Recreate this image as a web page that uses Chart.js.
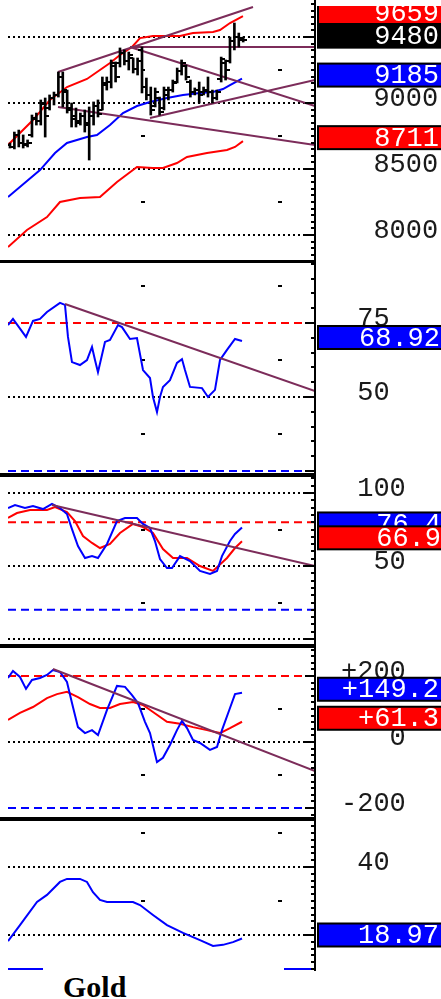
<!DOCTYPE html>
<html><head><meta charset="utf-8">
<script src="https://cdn.jsdelivr.net/npm/chart.js@4"></script>
<style>
body{margin:0;background:#fff;width:441px;height:999px;overflow:hidden;position:relative}
canvas{position:absolute;left:0}
.sep{position:absolute;left:0;width:316px;background:#000;z-index:3}
#legend{position:absolute;left:43px;top:963px;width:241px;height:36px;background:#fff;z-index:5}
#legend span{position:absolute;left:20px;top:9px;font:bold 30px "Liberation Serif";line-height:30px;color:#000}
</style></head><body>
<canvas id="p1" width="441" height="260" style="top:0px"></canvas>
<canvas id="p2" width="441" height="210" style="top:263px"></canvas>
<canvas id="p3" width="441" height="167" style="top:477px"></canvas>
<canvas id="p4" width="441" height="169" style="top:648px"></canvas>
<canvas id="p5" width="441" height="150" style="top:821px"></canvas>
<div class="sep" style="top:260px;height:3px"></div>
<div class="sep" style="top:473px;height:4px"></div>
<div class="sep" style="top:644px;height:4px"></div>
<div class="sep" style="top:817px;height:4px"></div>
<div id="legend"><span>Gold</span></div>
<script>
// ---------- DATA ----------
// price bars (index = bar number)
const priceOpen  = [8680,8670,8760,8700,8690,8760,8880,8860,8990,8960,9040,9060,9200,9080,8960,8880,8860,8900,8850,8900,8980,8950,9140,9160,9280,9300,9380,9320,9340,9260,9400,9120,9060,8980,9040,8960,9060,9100,9160,9240,9280,9160,9080,9100,9080,9090,9080,9040,9180,9300,9320,9470,9500,9490];
const priceHigh  = [8697,8780,8795,8758,8720,8909,8924,9023,9038,9061,9083,9235,9235,9098,9000,8962,8924,8947,8970,9008,9023,9197,9197,9326,9311,9417,9402,9386,9341,9341,9424,9189,9121,9114,9045,9121,9121,9174,9265,9326,9288,9174,9114,9159,9121,9197,9098,9098,9348,9326,9500,9606,9530,9500];
const priceLow   = [8659,8652,8667,8659,8667,8742,8833,8833,8742,8947,8985,9045,8970,8924,8818,8818,8833,8780,8568,8833,8894,8947,9098,9114,9159,9273,9288,9250,9227,9212,9076,9023,8909,8970,8909,8947,9023,9083,9152,9212,9174,9045,9061,9000,9061,9045,9000,9023,9159,9174,9303,9402,9424,9462];
const priceClose = [8670,8760,8700,8680,8700,8890,8860,9000,8900,9040,9060,9200,9100,8950,8900,8850,8900,8830,8900,8980,8920,9150,9160,9300,9200,9380,9320,9360,9260,9320,9120,9060,8950,9080,8930,9100,9100,9150,9240,9300,9200,9080,9100,9060,9100,9080,9040,9080,9330,9250,9470,9500,9480,9480];

// envelope bands (x = bar index)
const upperX = [-0.45,5.23,9.09,12.95,17.5,22.73,25,27.73,29.55,32.5,38.64,41.59,46.14,47.73,50,52.95];
const upperY = [8682,8871,9023,9121,9182,9303,9364,9424,9492,9508,9508,9530,9538,9553,9606,9659];
const midX   = [-0.45,6.82,10.23,12.95,17.5,19.77,22.73,25.68,28.86,31.82,35.68,39.32,43.18,46.14,48.41,50,52.73];
const midY   = [8288,8492,8621,8697,8742,8758,8833,8924,8977,9008,9038,9061,9076,9083,9106,9136,9185];
const lowerX = [-0.45,3.86,8.41,11.36,15.91,20.45,24.32,28.86,32.5,34.77,37.95,40.23,44.77,49.32,51.14,52.95];
const lowerY = [7909,8038,8136,8250,8280,8288,8402,8515,8508,8508,8545,8591,8621,8644,8667,8711];

// price trend lines: [x1, y1, x2, y2]
const priceTrends = [
  [10.91,9235,55.23,9727],
  [27.27,9424,69.32,9424],
  [27.27,9424,69.32,8977],
  [10.91,8970,69.32,8682],
  [31.82,8886,69.32,9174]
];

// RSI
const rsiX = [-0.45,0.68,3.64,5.23,6.82,8.41,11.36,12.5,13.18,14.09,15.91,17.5,18.64,19.32,20,21.59,22.73,24.55,25.45,27.27,28.86,30.23,31.82,32.5,33.41,34.09,34.77,36.36,37.95,39.09,39.77,40.91,43.64,45,46.59,47.73,49.32,51.14,52.73];
const rsiY = [74.3,76.4,70.3,75.7,76.4,78.7,81.8,81.1,70.3,61.8,60.8,62.5,66.9,62.5,58.4,68.6,69.3,74.3,73.6,69.6,69.9,59.1,56.4,50.0,44.9,50.0,53.4,55.7,61.5,62.8,59.1,53.4,53.0,50.0,52.4,62.5,65.9,69.6,68.92];
const rsiTrend = [12.5,81.4,69.32,52.0];

// Stochastic
const stkX = [-0.45,1.14,3.41,5.23,7.5,9.55,11.36,12.95,14.09,15.45,17.05,18.64,20,22.05,24.32,26.14,28.86,30.23,31.82,32.95,34.09,35.68,36.82,38.64,40.91,43.18,45.45,47.05,48.18,50,51.14,52.73];
const stkY = [89.7,91.8,89.7,91.1,89.0,92.5,89.7,85.6,75.3,63.7,55.5,56.8,55.5,65.1,80.8,82.9,82.9,78.8,76.0,67.1,54.8,48.6,48.6,56.8,53.4,46.6,44.5,46.6,56.8,67.1,71.9,76.4];
const stdX = [-0.45,1.59,4.55,8.41,10.23,12.95,14.77,16.59,18.64,20.45,22.73,25,27.95,30.23,32.5,34.77,37.05,40.23,43.18,46.14,49.32,51.14,52.73];
const stdY = [82.9,86.3,88.4,88.4,90.4,87.0,80.8,70.5,65.8,62.3,65.1,72.6,78.8,76.7,72.6,61.6,55.5,55.5,50.0,46.6,55.5,62.3,66.9];
const stoTrend = [9.55,91.8,69.32,50.0];

// CCI
const cciX = [-0.45,0.68,2.27,3.64,5,6.82,8.41,9.77,11.36,12.95,14.09,15.45,17.05,18.64,20,22.05,24.32,26.14,27.73,29.09,30.68,31.82,33.41,34.77,36.36,37.95,39.09,40.23,41.59,43.18,45.45,47.05,48.18,50,51.14,52.73];
const cciY = [194,215,197,161,188,194,203,218,212,182,118,45,27,36,21,97,170,167,142,118,61,27,-61,-48,-9,36,64,42,6,-3,-24,-15,36,103,145,149.2];
const cciAvgX = [-0.45,2.27,5.23,8.41,10.68,12.95,15.45,18.18,20.45,22.73,25,27.95,30.23,32.5,35.68,38.64,41.59,44.77,47.73,50,52.73];
const cciAvgY = [67,88,106,133,145,152,136,115,103,103,115,121,112,91,61,55,45,36,27,42,61.3];
const cciTrend = [9.77,221,69.32,-88];

// bottom indicator
const adxX = [-0.45,2.27,6.14,8.41,11.36,12.95,15.91,17.5,18.86,20.45,22.05,27.95,29.55,32.5,35.68,39.32,43.18,46.14,48.41,50.68,52.73];
const adxY = [18.2,22.9,29.7,31.8,35.6,36.5,36.5,35.6,32.6,30.3,29.7,29.7,28.8,25.9,22.9,20.6,18.5,16.8,17.1,17.9,18.97];

// time grid (vertical grid markers) x positions in bar index
const timeGridX = [30.23, 61.36];

// axis ticks
const priceTicks = [8000,8500,9000,9500];
const rsiTicks = [50,75];
const stoTicks = [0,50,100];
const cciTicks = [-200,0,200];
const adxTicks = [20,40];

// ---------- HELPERS ----------
const X_MIN = -0.45, X_MAX = 69.32;
const RED = '#ff0000', BLUE = '#0000ff', MAROON = '#7c2c5a';
const pts = (xs, ys) => xs.map((x, i) => ({x, y: ys[i]}));
function lineDs(data, color, order, extra) {
  return Object.assign({type:'line', data, borderColor:color, borderWidth:2, pointRadius:0, fill:false, tension:0, order}, extra || {});
}
const trendDs = t => lineDs([{x:t[0], y:t[1]}, {x:t[2], y:t[3]}], MAROON, 1);
const levelDs = (v, color, dash) => lineDs([{x:X_MIN, y:v}, {x:X_MAX, y:v}], color, 8, dash ? {borderDash:[8,5]} : {});
function img(w, h, x0, fw) {
  const c = document.createElement('canvas'); c.width = w; c.height = h;
  const g = c.getContext('2d'); g.fillStyle = '#000'; g.fillRect(x0, 0, fw, h); return c;
}
const openImg = img(8, 2, 0, 4), closeImg = img(8, 2, 4, 4), dotImg = img(4, 2, 0, 4);
function gridDs(levels) {
  const data = [];
  timeGridX.forEach(x => levels.forEach(y => data.push({x, y})));
  return {type:'line', data, showLine:false, pointStyle:dotImg, pointRadius:3, order:9};
}

const panelPlugin = {
  id: 'panel',
  afterDraw(chart, args, o) {
    const ctx = chart.ctx, ys = chart.scales.y, ax = chart.chartArea.right;
    ctx.save();
    ctx.fillStyle = '#000';
    const n0 = Math.ceil(ys.min / o.minor), n1 = Math.floor(ys.max / o.minor);
    for (let n = n0; n <= n1; n++) {
      const v = n * o.minor;
      const y = Math.round(ys.getPixelForValue(v));
      const major = Math.abs(v / o.major - Math.round(v / o.major)) < 1e-6;
      const len = major ? 10 : 4;
      ctx.fillRect(ax - len, y - 1, len, 2);
    }
    ctx.fillRect(ax - 1, 0, 2, chart.height);
    if (o.clipTop) { ctx.beginPath(); ctx.rect(0, o.clipTop, chart.width, chart.height); ctx.clip(); }
    ctx.font = '27px "Liberation Mono"';
    ctx.textAlign = 'right'; ctx.textBaseline = 'middle';
    (o.boxes || []).forEach(b => {
      const yc = ys.getPixelForValue(b.v) - 3.5;
      ctx.fillStyle = '#000'; ctx.fillRect(317, yc - 12.5, 130, 25);
      ctx.fillStyle = b.c; ctx.fillRect(319, yc - 10.5, 130, 21);
      ctx.fillStyle = '#fff'; ctx.fillText(b.t, b.r || 439, yc + 1);
    });
    ctx.restore();
  }
};

function yAxis(min, max, ticks, dotted, fmt) {
  return {
    position:'right', min, max,
    afterBuildTicks: s => { s.ticks = ticks.map(v => ({value:v})); },
    afterFit: s => { s.width = 126; s.paddingTop = 0; s.paddingBottom = 0; },
    border:{display:false, dash:[2,3]},
    grid:{drawTicks:false, lineWidth:2, color: c => (c.tick && dotted.includes(c.tick.value)) ? '#000' : 'rgba(0,0,0,0)'},
    ticks:{padding:26, labelOffset:-4, color:'#1a1a1a', crossAlign:'near', font:{family:'Liberation Mono', size:27}, callback: fmt}
  };
}

function makeChart(id, datasets, y, panel) {
  return new Chart(document.getElementById(id), {
    type:'line',
    data:{datasets},
    options:{
      responsive:false, animation:false, devicePixelRatio:1, events:[],
      layout:{padding:{left:8, right:0, top:0, bottom:0}, autoPadding:false},
      plugins:{legend:{display:false}, tooltip:{enabled:false}, panel},
      scales:{x:{type:'linear', display:false, min:X_MIN, max:X_MAX, offset:false}, y}
    },
    plugins:[panelPlugin]
  });
}

// ---------- PANEL 1: price ----------
makeChart('p1', [
  {type:'bar', data: priceHigh.map((h, i) => ({x:i, y:[priceLow[i], h]})), backgroundColor:'#000', barThickness:2, grouped:false, order:0},
  {type:'line', data: priceOpen.map((v, i) => ({x:i, y:v})), showLine:false, pointStyle:openImg, pointRadius:3, order:0},
  {type:'line', data: priceClose.map((v, i) => ({x:i, y:v})), showLine:false, pointStyle:closeImg, pointRadius:3, order:0},
  ...priceTrends.map(trendDs),
  lineDs(pts(upperX, upperY), RED, 2),
  lineDs(pts(midX, midY), BLUE, 2),
  lineDs(pts(lowerX, lowerY), RED, 2),
  gridDs([8250, 8750, 9250])
], yAxis(7810.6, 9780.3, priceTicks, priceTicks, v => String(v).padStart(6, ' ')),
{minor:50, major:500, clipTop:6, boxes:[
  {v:9659, c:RED, t:'9659'}, {v:9480, c:'#000', t:'9480'}, {v:9185, c:BLUE, t:'9185'}, {v:8711, c:RED, t:'8711'}]});

// ---------- PANEL 2: RSI ----------
makeChart('p2', [
  trendDs(rsiTrend),
  lineDs(pts(rsiX, rsiY), BLUE, 3),
  levelDs(75, RED, true), levelDs(25, BLUE, true),
  gridDs([37.5, 62.5, 87.5])
], yAxis(24.32, 95.27, rsiTicks, [50], v => ' ' + v + '   '),
{minor:5, major:25, boxes:[{v:68.92, c:BLUE, t:'68.92', r:440}]});

// ---------- PANEL 3: Stochastic ----------
makeChart('p3', [
  trendDs(stoTrend),
  lineDs(pts(stkX, stkY), BLUE, 3),
  lineDs(pts(stdX, stdY), RED, 4),
  levelDs(80, RED, true), levelDs(20, BLUE, true),
  gridDs([25, 75])
], yAxis(-3.42, 110.96, stoTicks, stoTicks, v => v === 0 ? '' : String(v).padStart(4, ' ') + '  '),
{minor:5, major:50, boxes:[{v:76.4, c:BLUE, t:'76.4', r:441}, {v:66.9, c:RED, t:'66.9', r:441}]});

// ---------- PANEL 4: CCI ----------
makeChart('p4', [
  trendDs(cciTrend),
  lineDs(pts(cciX, cciY), BLUE, 3),
  lineDs(pts(cciAvgX, cciAvgY), RED, 4),
  levelDs(200, RED, true), levelDs(-200, BLUE, true),
  gridDs([-100, 100])
], yAxis(-227.3, 284.8, cciTicks, [0], v => (v > 0 ? '+' + v : String(v)).padStart(4, ' ') + '  '),
{minor:20, major:200, boxes:[{v:149.2, c:BLUE, t:'+149.2'}, {v:61.3, c:RED, t:'+61.3'}]});

// ---------- PANEL 5 ----------
makeChart('p5', [
  lineDs(pts(adxX, adxY), BLUE, 3),
  levelDs(10, BLUE, false),
  gridDs([30, 50])
], yAxis(9.41, 53.53, adxTicks, adxTicks, v => v === 40 ? ' 40   ' : ''),
{minor:2, major:20, boxes:[{v:18.97, c:BLUE, t:'18.97'}]});
</script>
</body></html>
